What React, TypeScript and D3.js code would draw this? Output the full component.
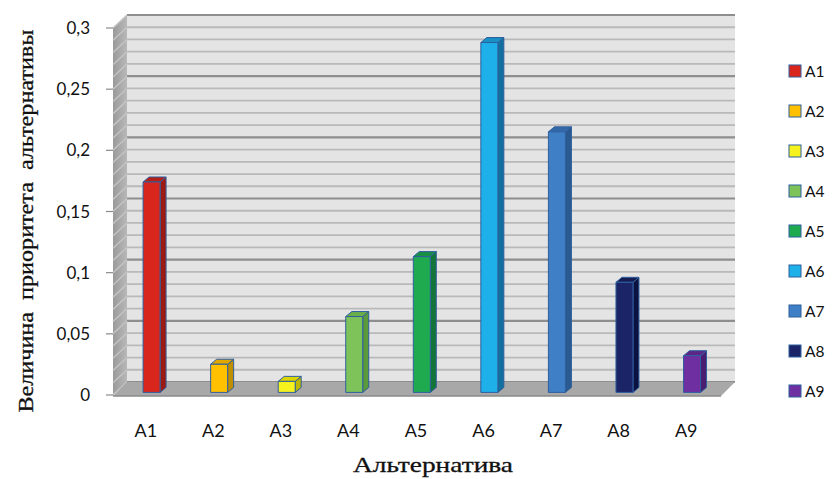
import React from "react";
import * as d3 from "d3";

const categories = ["A1", "A2", "A3", "A4", "A5", "A6", "A7", "A8", "A9"];
const values = [0.172, 0.023, 0.009, 0.062, 0.111, 0.286, 0.213, 0.09, 0.03];
const fillColors = ["#d9261c", "#ffc000", "#f6f21e", "#7dc35a", "#1faa50", "#1eb0e8", "#3f7fc5", "#1b2466", "#6e2fa0"];
const sideColors = ["#9c1a12", "#c08f00", "#bdb800", "#5a9a3a", "#137538", "#12709e", "#2a5a90", "#0c1240", "#4a1d70"];
const topColors = ["#b41f16", "#e0a800", "#dcd600", "#6aae48", "#188f44", "#1890c4", "#3369a8", "#141c52", "#5c2588"];
const yTicks = [0, 0.05, 0.1, 0.15, 0.2, 0.25, 0.3];
const yTickLabels = ["0", "0,05", "0,1", "0,15", "0,2", "0,25", "0,3"];
const yTitle = "Величина  приоритета  альтернативы";
const xTitle = "Альтернатива";

const W = 833, H = 479;
const FX0 = 113, FX1 = 721;
const DX = 14, DY = 13;

export default function App() {
  const y = d3.scaleLinear().domain([0, 0.3]).range([395, 28]);
  const x = d3.scaleBand<string>().domain(categories).range([FX0, FX1]);
  const minor = d3.range(0, 31).map((i) => i / 100);
  const sans = "Lato, 'Open Sans', sans-serif";
  const serif = "'Liberation Serif', 'DejaVu Serif', serif";

  const barW = 17, sdx = 6, sdy = 5, f0 = 0.2;

  return (
    <svg width={W} height={H} style={{ position: "absolute", left: 0, top: 0, background: "#fff" }}>
      <defs>
        <linearGradient id="sideWall" x1="0" x2="1" y1="0" y2="0">
          <stop offset="0" stopColor="#9a9a9a" />
          <stop offset="1" stopColor="#b8b8b8" />
        </linearGradient>
      </defs>
      {/* back wall */}
      <rect x={FX0 + DX} y={y(0.3) - DY} width={FX1 - FX0} height={y(0) - y(0.3)} fill="#e4e4e4" />
      {minor.map((v, i) => {
        const major = i % 5 === 0;
        return (
          <line key={"g" + i} x1={FX0 + DX} x2={FX1 + DX} y1={y(v) - DY} y2={y(v) - DY}
            stroke={major ? "#8e8e8e" : "#b9b9b9"} strokeWidth={major ? 2.2 : 1.8} />
        );
      })}
      {/* side wall */}
      <polygon points={`${FX0},${y(0.3)} ${FX0 + DX},${y(0.3) - DY} ${FX0 + DX},${y(0) - DY} ${FX0},${y(0)}`} fill="url(#sideWall)" />
      {minor.map((v, i) => (
        <line key={"s" + i} x1={FX0} x2={FX0 + DX} y1={y(v)} y2={y(v) - DY} stroke="#c4c4c4" strokeWidth={1.4} />
      ))}
      {/* floor */}
      <polygon points={`${FX0},${y(0) + 1} ${FX0 + DX},${y(0) - DY} ${FX1 + DX},${y(0) - DY} ${FX1},${y(0) + 1}`} fill="#a8a8a8" />
      <line x1={FX0} x2={FX1} y1={y(0) + 1} y2={y(0) + 1} stroke="#8a8a8a" strokeWidth={1.5} />
      {/* axis ticks */}
      {yTicks.map((v, i) => (
        <g key={"t" + i}>
          <line x1={106} x2={FX0} y1={y(v)} y2={y(v)} stroke="#8a8a8a" strokeWidth={1.2} />
          <text x={90} y={y(v) + 6} textAnchor="end" fontFamily={sans} fontSize={17} fill="#111">{yTickLabels[i]}</text>
        </g>
      ))}
      {/* bars */}
      {categories.map((c, i) => {
        const bc = (x(c) as number) + x.bandwidth() / 2;
        const fc = bc + DX * f0 + sdx / 2 - 1;
        const xl = fc - barW / 2;
        const xr = fc + barW / 2;
        const yb = y(0) - DY * f0;
        const yt = yb - (y(0) - y(values[i]));
        return (
          <g key={"b" + i} stroke="#2f5f9e" strokeWidth={1} strokeLinejoin="round">
            <polygon points={`${xr},${yt} ${xr + sdx},${yt - sdy} ${xr + sdx},${yb - sdy} ${xr},${yb}`} fill={sideColors[i]} />
            <polygon points={`${xl},${yt} ${xr},${yt} ${xr + sdx},${yt - sdy} ${xl + sdx},${yt - sdy}`} fill={topColors[i]} />
            <rect x={xl} y={yt} width={barW} height={yb - yt} fill={fillColors[i]} />
          </g>
        );
      })}
      {/* category labels */}
      {categories.map((c, i) => (
        <text key={"c" + i} x={(x(c) as number) + x.bandwidth() / 2 - 1} y={437} textAnchor="middle" fontFamily={sans} fontSize={18} fill="#111">{c}</text>
      ))}
      {/* legend */}
      {categories.map((c, i) => (
        <g key={"l" + i}>
          <rect x={789} y={65 + 40 * i} width={12} height={12} fill={fillColors[i]} stroke="#2f5f9e" strokeWidth={1} />
          <text x={805} y={77 + 40 * i} fontFamily={sans} fontSize={15.5} fill="#111">{c}</text>
        </g>
      ))}
      {/* titles */}
      <text transform={`translate(33,221) rotate(-90)`} textAnchor="middle" fontFamily={serif} fontSize={22} textLength={383} lengthAdjust="spacingAndGlyphs" fill="#111" stroke="#111" strokeWidth={0.3} style={{ whiteSpace: "pre" }}>{yTitle}</text>
      <text x={433} y={472} textAnchor="middle" fontFamily={serif} fontSize={22} textLength={160} lengthAdjust="spacingAndGlyphs" fill="#111" stroke="#111" strokeWidth={0.3}>{xTitle}</text>
    </svg>
  );
}
